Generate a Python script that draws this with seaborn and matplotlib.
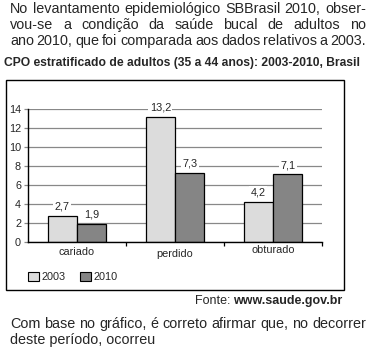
import matplotlib
matplotlib.use("Agg")
import matplotlib.pyplot as plt
import seaborn as sns
import pandas as pd
from matplotlib.patches import Rectangle

categories = ["cariado", "perdido", "obturado"]
years = ["2003", "2010"]
values_2003 = [2.7, 13.2, 4.2]
values_2010 = [1.9, 7.3, 7.1]
yticks = [0, 2, 4, 6, 8, 10, 12, 14]

df = pd.DataFrame({
    "categoria": categories * 2,
    "ano": [years[0]] * 3 + [years[1]] * 3,
    "valor": values_2003 + values_2010,
})

sns.set_style("white")
plt.rcParams['font.family'] = ['Liberation Sans', 'DejaVu Sans']

W, H = 375, 350
fig = plt.figure(figsize=(W / 100, H / 100), dpi=100)

def px(x, y):
    return x / W, 1 - y / H

# frame around chart
fig.patches.append(Rectangle(px(6, 290), 338 / W, 210 / H, transform=fig.transFigure,
                             fill=False, ec="black", lw=1.0))

ax = fig.add_axes([28 / W, (H - 241.7) / H, 294 / W, 132.7 / H])
palette = {"2003": "#dcdcdc", "2010": "#858585"}
sns.barplot(data=df, x="categoria", y="valor", hue="ano", palette=palette,
            width=0.6, edgecolor="black", linewidth=0.9, saturation=1,
            ax=ax, legend=False, zorder=3)
ax.set_ylim(0, 14)
ax.set_xlim(-0.5, 2.5)
ax.set_yticks(yticks)
ax.set_yticklabels([str(t) for t in yticks], fontsize=7.8)
ax.yaxis.grid(True, color="#888888", lw=0.9, zorder=0)
ax.set_axisbelow(True)
ax.set_xticks([0.5, 1.5, 2.5])
ax.set_xticklabels([])
ax.tick_params(axis="x", direction="out", length=3, width=0.9, color="black", bottom=True)
ax.tick_params(axis="y", direction="out", length=3, width=0.9, color="#888888", left=True, pad=2)
ax.set_xlabel("")
ax.set_ylabel("")
for s in ["top", "right"]:
    ax.spines[s].set_visible(False)
for s in ["left", "bottom"]:
    ax.spines[s].set_color("black")
    ax.spines[s].set_linewidth(1.0)
ax.spines["left"].set_zorder(4)
ax.spines["bottom"].set_zorder(4)

for cont in ax.containers:
    for bar in cont:
        h = bar.get_height()
        ax.annotate(f"{h:.1f}".replace(".", ","), (bar.get_x() + bar.get_width() / 2, h),
                    xytext=(0, 3), textcoords="offset points", ha="center", va="bottom",
                    fontsize=7.8, annotation_clip=False, zorder=5,
                    bbox=dict(fc="white", ec="none", pad=1.0))

# category labels (slightly different heights as in reference)
cat_offsets = [252, 254, 250]
blend = matplotlib.transforms.blended_transform_factory(ax.transData, fig.transFigure)
for i, (c, yy) in enumerate(zip(categories, cat_offsets)):
    ax.text(i, (H - yy) / H, c, transform=blend, ha="center", va="center", fontsize=7.8)

# legend
for x0, lab in [(28, years[0]), (80, years[1])]:
    fig.patches.append(Rectangle(px(x0, 281), 11 / W, 9 / H, transform=fig.transFigure,
                                 fc=palette[lab], ec="black", lw=0.8))
    fig.text((x0 + 14) / W, 1 - 276.5 / H, lab, fontsize=7.8, va="center", ha="left")

# texts
renderer = fig.canvas.get_renderer()

def justified(line, x0, x1, y, size, weight="normal", justify=True):
    words = line.split(" ")
    if not justify:
        fig.text(x0 / W, 1 - y / H, line, fontsize=size, va="center", ha="left", weight=weight)
        return
    ts = [fig.text(0, 1 - y / H, w, fontsize=size, va="center", ha="left", weight=weight) for w in words]
    widths = [t.get_window_extent(renderer).width for t in ts]
    gap = (x1 - x0 - sum(widths)) / (len(words) - 1)
    x = x0
    for t, w in zip(ts, widths):
        t.set_x(x / W)
        x += w + gap

fs = 10.4
justified("No levantamento epidemiológico SBBrasil 2010, obser-", 10, 366, 9, fs)
justified("vou-se a condição da saúde bucal de adultos no", 10, 366, 25, fs)
justified("ano 2010, que foi comparada aos dados relativos a 2003.", 10, 366, 41, fs)

fig.text(4 / W, 1 - 63 / H, "CPO estratificado de adultos (35 a 44 anos): 2003-2010, Brasil",
         fontsize=8.7, weight="bold", va="center", ha="left")

t2 = fig.text(342 / W, 1 - 301 / H, "www.saude.gov.br", fontsize=9, weight="bold", va="center", ha="right")
w2 = t2.get_window_extent(renderer).width
fig.text((342 - w2 - 2) / W, 1 - 301 / H, "Fonte:", fontsize=9, va="center", ha="right")

justified("Com base no gráfico, é correto afirmar que, no decorrer", 10, 366, 324, fs)
justified("deste período, ocorreu", 10, 366, 340, fs, justify=False)

fig.savefig("out.png", dpi=100)
